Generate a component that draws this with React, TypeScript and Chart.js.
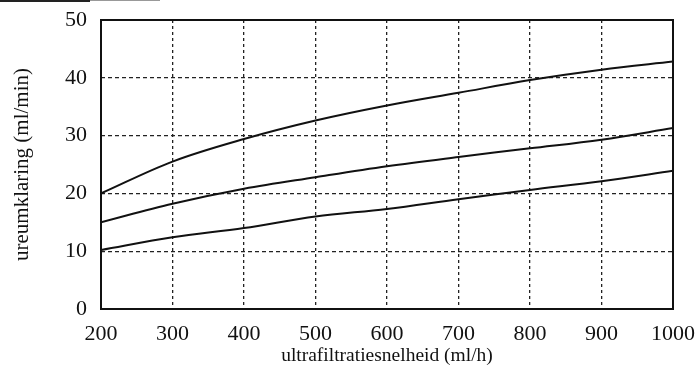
import React, { useEffect, useRef } from "react";
import { Chart, registerables } from "chart.js";

Chart.register(...registerables);

const rates = [200, 300, 400, 500, 600, 700, 800, 900, 1000];
const upperCurve = [20.0, 25.5, 29.4, 32.6, 35.2, 37.4, 39.6, 41.4, 42.8];
const middleCurve = [15.0, 18.2, 20.8, 22.8, 24.7, 26.3, 27.8, 29.3, 31.3];
const lowerCurve = [10.2, 12.4, 14.0, 16.0, 17.3, 19.0, 20.6, 22.1, 23.9];
const xTitle = "ultrafiltratiesnelheid (ml/h)";
const yTitle = "ureumklaring (ml/min)";

const FONT = "'Liberation Serif', 'DejaVu Serif', serif";

const framePlugin = {
  id: "frame",
  afterDatasetsDraw(chart: any) {
    const { ctx, chartArea } = chart;
    ctx.save();
    ctx.strokeStyle = "#111";
    ctx.lineWidth = 2;
    ctx.setLineDash([]);
    ctx.strokeRect(chartArea.left, chartArea.top, chartArea.right - chartArea.left, chartArea.bottom - chartArea.top);
    ctx.restore();
  },
};

const zeroPad = (s: any) => {
  s.paddingTop = 0;
  s.paddingBottom = 0;
  s.paddingLeft = 0;
  s.paddingRight = 0;
};

export default function App() {
  const ref = useRef<HTMLCanvasElement>(null);
  useEffect(() => {
    document.body.style.margin = "0";
    const mk = (data: number[]) => ({
      data: rates.map((x, i) => ({ x, y: data[i] })),
      borderColor: "#111",
      borderWidth: 2,
      pointRadius: 0,
      tension: 0.35,
      fill: false,
    });
    const chart = new Chart(ref.current!, {
      type: "line",
      data: { datasets: [mk(upperCurve), mk(middleCurve), mk(lowerCurve)] },
      options: {
        responsive: false,
        animation: false,
        layout: { padding: { left: 0, top: 20, right: 24, bottom: 0 } },
        plugins: { legend: { display: false }, tooltip: { enabled: false } },
        scales: {
          x: {
            type: "linear",
            min: 200,
            max: 1000,
            afterFit: (s: any) => { s.height = 56; zeroPad(s); },
            ticks: {
              stepSize: 100,
              color: "#111",
              font: { family: FONT, size: 22 },
              padding: 12,
              maxRotation: 0,
              callback: (v: any) => String(v),
            },
            grid: { color: "#222", lineWidth: 1.3, drawTicks: false },
            border: { display: false, dash: [3, 3] },
            title: { display: true, text: xTitle, color: "#111", font: { family: FONT, size: 19.5, lineHeight: 0.9 }, padding: { top: 0, bottom: 0 } },
          },
          y: {
            min: 0,
            max: 50,
            afterFit: (s: any) => { s.width = 101; zeroPad(s); },
            ticks: { stepSize: 10, color: "#111", font: { family: FONT, size: 22 }, padding: 14 },
            grid: { color: "#222", lineWidth: 1.2, drawTicks: false },
            border: { display: false, dash: [4, 3] },
            title: { display: true, text: yTitle, color: "#111", font: { family: FONT, size: 21 }, padding: { top: 10, bottom: 0 } },
          },
        },
      },
      plugins: [framePlugin],
    });
    return () => chart.destroy();
  }, []);
  return (
    <div style={{ position: "relative", width: 697, height: 365, background: "#fff" }}>
      <div style={{ position: "absolute", left: 0, top: 0, width: 90, height: 2, background: "#222" }} />
      <div style={{ position: "absolute", left: 90, top: 0, width: 70, height: 1, background: "#999" }} />
      <canvas ref={ref} width={697} height={365} style={{ display: "block" }} />
    </div>
  );
}
